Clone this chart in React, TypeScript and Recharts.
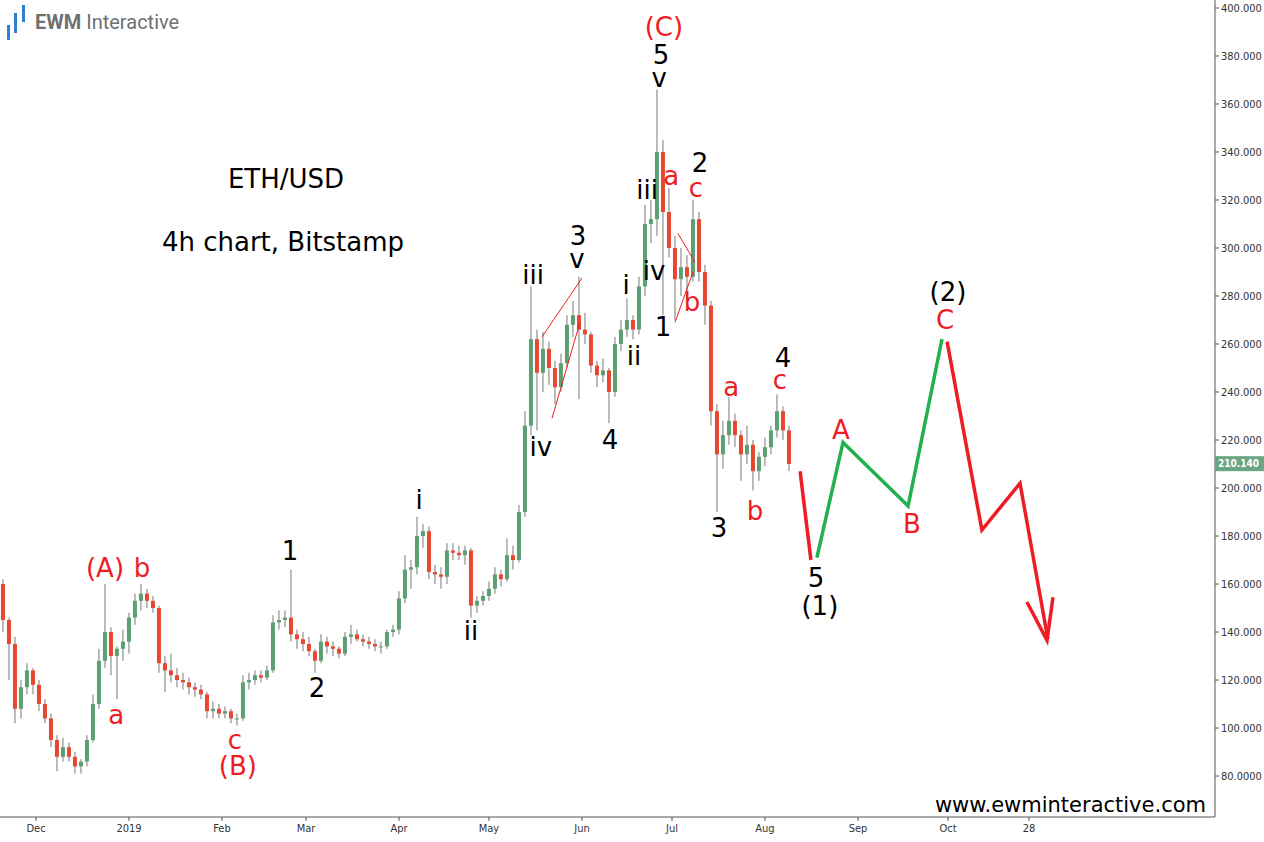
import React from "react"
import { ComposedChart, Bar, Line, Scatter, XAxis, YAxis, ReferenceDot } from "recharts"

// 2-day candles starting 19 Nov 2018: [open, high, low, close]
const candles: number[][] = [
  [160, 162, 140, 145], [145, 146, 120, 135], [135, 138, 102, 108], [108, 120, 104, 117],
  [117, 127, 114, 124], [124, 125, 114, 118], [118, 120, 107, 110], [110, 112, 102, 104],
  [104, 106, 92, 95], [95, 97, 82, 88], [88, 96, 86, 92], [92, 94, 86, 88],
  [88, 90, 81, 84], [84, 87, 81, 86], [86, 97, 84, 95], [95, 114, 94, 110],
  [110, 133, 108, 128], [128, 160, 125, 140], [140, 142, 122, 130], [130, 134, 112, 133],
  [133, 141, 128, 136], [136, 148, 131, 146], [146, 156, 143, 153], [153, 160, 149, 156],
  [156, 158, 150, 153], [153, 155, 148, 150], [150, 151, 123, 127], [127, 130, 115, 124],
  [124, 131, 119, 122], [122, 125, 117, 120], [120, 123, 116, 119], [119, 121, 114, 117],
  [117, 119, 113, 116], [116, 118, 112, 114], [114, 115, 104, 107], [107, 111, 104, 108],
  [108, 110, 104, 106], [106, 109, 104, 107], [107, 108, 102, 104], [104, 106, 101, 104],
  [104, 122, 103, 119], [119, 123, 116, 120], [120, 124, 118, 122], [122, 124, 119, 121],
  [121, 126, 120, 124], [124, 147, 123, 144], [144, 149, 141, 145], [145, 149, 142, 146],
  [146, 166, 136, 139], [139, 141, 133, 137], [137, 140, 132, 135], [135, 138, 130, 132],
  [132, 133, 123, 128], [128, 139, 127, 136], [136, 138, 131, 134], [134, 136, 130, 133],
  [133, 134, 129, 131], [131, 140, 130, 138], [138, 143, 135, 139], [139, 141, 136, 137],
  [137, 139, 134, 136], [136, 138, 133, 135], [135, 137, 132, 134], [134, 136, 131, 134],
  [134, 141, 133, 140], [140, 143, 138, 141], [141, 157, 139, 154], [154, 172, 152, 166],
  [166, 170, 158, 167], [167, 188, 164, 180], [180, 185, 175, 182], [182, 184, 162, 165],
  [165, 168, 160, 164], [164, 167, 158, 163], [163, 177, 160, 174], [174, 177, 170, 173],
  [173, 176, 170, 172], [172, 176, 168, 174], [174, 175, 146, 151], [151, 155, 148, 153],
  [153, 157, 151, 155], [155, 161, 153, 158], [158, 167, 156, 164], [164, 166, 159, 162],
  [162, 179, 161, 172], [172, 176, 166, 170], [170, 193, 169, 190], [190, 232, 188, 226],
  [226, 284, 222, 262], [262, 266, 224, 248], [248, 265, 240, 258], [258, 261, 243, 250],
  [250, 253, 235, 242], [242, 256, 240, 252], [252, 272, 250, 268], [268, 278, 263, 272],
  [272, 288, 237, 266], [266, 273, 260, 264], [264, 265, 248, 251], [251, 253, 242, 247],
  [247, 254, 244, 249], [249, 250, 227, 240], [240, 263, 238, 260], [260, 270, 257, 266],
  [266, 279, 263, 270], [270, 272, 262, 266], [266, 288, 264, 284], [284, 318, 280, 310],
  [310, 320, 302, 312], [312, 366, 305, 340], [340, 345, 272, 315], [315, 325, 296, 300],
  [300, 305, 270, 287], [287, 300, 280, 292], [292, 297, 278, 288], [288, 320, 286, 312],
  [312, 315, 286, 290], [290, 293, 268, 276], [276, 278, 226, 232], [232, 235, 190, 214],
  [214, 228, 208, 222], [222, 238, 218, 228], [228, 231, 217, 222], [222, 224, 203, 214],
  [214, 226, 210, 218], [218, 220, 199, 207], [207, 215, 203, 213], [213, 221, 209, 217],
  [217, 226, 214, 224], [224, 239, 221, 232], [232, 234, 220, 224], [224, 226, 207, 210],
]

const monthTicks = [12, 43, 74, 102, 133, 163, 194, 224, 255, 286, 316, 343]
const monthLabels = ["Dec", "2019", "Feb", "Mar", "Apr", "May", "Jun", "Jul", "Aug", "Sep", "Oct", "28"]
const priceTicks = [80, 100, 120, 140, 160, 180, 200, 220, 240, 260, 280, 300, 320, 340, 360, 380, 400]
const lastPrice = 210.14

// projected path (day, price)
const projWave1 = [{ d: 266.7, p: 207 }, { d: 270.3, p: 170 }]
const projWave2 = [{ d: 272.3, p: 171 }, { d: 281, p: 219 }, { d: 302.7, p: 192.5 }, { d: 314, p: 262 }]
const projWave3 = [{ d: 315.7, p: 261 }, { d: 327.3, p: 182.5 }, { d: 340, p: 202 }, { d: 349.3, p: 137 }]
const arrowHead = [{ d: 342.3, p: 152.5 }, { d: 349, p: 136.5 }, { d: 351, p: 154.5 }]

// thin trend lines
const trendA = [{ d: 180.7, p: 263 }, { d: 194, p: 287.5 }]
const trendB = [{ d: 184, p: 229 }, { d: 193.3, p: 269 }]
const trendC = [{ d: 226, p: 306 }, { d: 231.7, p: 294 }]
const trendD = [{ d: 225, p: 269 }, { d: 231, p: 290 }]

const RED = "#ee1c24"
const BLK = "#000000"

// wave labels: day, price, text, colour
const waveLabels = [
  { d: 221.3, p: 392, t: "(C)", c: RED },
  { d: 220.3, p: 380.4, t: "5", c: BLK },
  { d: 219.7, p: 370.8, t: "v", c: BLK },
  { d: 223.7, p: 330, t: "a", c: RED },
  { d: 233.3, p: 335.4, t: "2", c: BLK },
  { d: 232, p: 325, t: "c", c: RED },
  { d: 215.7, p: 324.2, t: "iii", c: BLK },
  { d: 192.7, p: 305, t: "3", c: BLK },
  { d: 192.3, p: 295.4, t: "v", c: BLK },
  { d: 177.7, p: 288.8, t: "iii", c: BLK },
  { d: 208.7, p: 284.6, t: "i", c: BLK },
  { d: 218, p: 290.4, t: "iv", c: BLK },
  { d: 221, p: 267.1, t: "1", c: BLK },
  { d: 230.7, p: 277.5, t: "b", c: RED },
  { d: 211.3, p: 255, t: "ii", c: BLK },
  { d: 180.3, p: 217.1, t: "iv", c: BLK },
  { d: 203.3, p: 220, t: "4", c: BLK },
  { d: 261, p: 254.2, t: "4", c: BLK },
  { d: 260, p: 245, t: "c", c: RED },
  { d: 243.7, p: 242.1, t: "a", c: RED },
  { d: 251.7, p: 190.4, t: "b", c: RED },
  { d: 239.7, p: 183.3, t: "3", c: BLK },
  { d: 272, p: 162.5, t: "5", c: BLK },
  { d: 273.3, p: 150.8, t: "(1)", c: BLK },
  { d: 316, p: 281.7, t: "(2)", c: BLK },
  { d: 315, p: 270, t: "C", c: RED },
  { d: 280.3, p: 224.2, t: "A", c: RED },
  { d: 304, p: 185, t: "B", c: RED },
  { d: 139.7, p: 195, t: "i", c: BLK },
  { d: 157, p: 140.4, t: "ii", c: BLK },
  { d: 96.7, p: 173.8, t: "1", c: BLK },
  { d: 105.7, p: 116.7, t: "2", c: BLK },
  { d: 35, p: 166.7, t: "(A)", c: RED },
  { d: 47.3, p: 166.7, t: "b", c: RED },
  { d: 38.7, p: 105.4, t: "a", c: RED },
  { d: 78.3, p: 95, t: "c", c: RED },
  { d: 79.3, p: 84.2, t: "(B)", c: RED },
]

const chartData = candles.map(([o, h, l, c], i) => ({ d: 2 * i + 1, o, h, l, c, range: [l, h] }))

const UP = "#5c9f74"
const DOWN = "#e8462e"
const WICK = "#7a7a7a"
const FONT = "'DejaVu Sans', Verdana, sans-serif"
const BODY_W = 4

const Candle = (props: any) => {
  const { x, y, width, height, payload } = props
  if (!payload) return null
  const { o, h, l, c } = payload
  const top = Math.min(y, y + height)
  const span = Math.abs(height)
  const k = h === l ? 0 : span / (h - l)
  const yo = top + (h - o) * k
  const yc = top + (h - c) * k
  const mid = x + width / 2
  return (
    <g>
      <line x1={mid} x2={mid} y1={top} y2={top + span} stroke={WICK} strokeWidth={1} />
      <rect x={mid - BODY_W / 2} y={Math.min(yo, yc)} width={BODY_W} height={Math.max(1, Math.abs(yc - yo))} fill={c >= o ? UP : DOWN} />
    </g>
  )
}

const WaveLabel = (props: any) => {
  const { cx, cy, payload } = props
  return (
    <text x={cx} y={cy} textAnchor="middle" dominantBaseline="central" fill={payload.c} fontSize={26} fontFamily={FONT}>
      {payload.t}
    </text>
  )
}

const PriceTag = (props: any) => {
  const { cx, cy } = props
  return (
    <g>
      <rect x={cx} y={cy - 7.5} width={49} height={15} fill="#6aa683" />
      <text x={cx + 3} y={cy} dominantBaseline="central" fill="#fff" fontSize={10}
        fontFamily="'DejaVu Sans Condensed', 'DejaVu Sans', sans-serif" fontWeight="bold">
        {lastPrice.toFixed(3)}
      </text>
    </g>
  )
}

const tickFont = { fill: "#333", fontSize: 11, fontFamily: "'DejaVu Sans Condensed', 'DejaVu Sans', sans-serif" }

export default function App() {
  return (
    <div style={{ position: "absolute", left: 0, top: 0, width: 1264, height: 842, background: "#fff", fontFamily: FONT }}>
      <ComposedChart width={1264} height={842} data={chartData} margin={{ top: 0, right: 0, bottom: 0, left: 0 }}>
        <XAxis
          type="number"
          dataKey="d"
          domain={[0, 405]}
          allowDataOverflow
          ticks={monthTicks}
          tickFormatter={(v: number) => monthLabels[monthTicks.indexOf(v)]}
          height={25}
          tickSize={4}
          tickMargin={3}
          axisLine={{ stroke: "#555" }}
          tickLine={{ stroke: "#555" }}
          tick={tickFont}
        />
        <YAxis
          orientation="right"
          domain={[62.92, 403.33]}
          allowDataOverflow
          ticks={priceTicks}
          tickFormatter={(v: number) => v.toFixed(v < 100 ? 4 : 3)}
          width={49}
          tickSize={4}
          tickMargin={2}
          axisLine={{ stroke: "#555" }}
          tickLine={{ stroke: "#555" }}
          tick={{ ...tickFont, textAnchor: "start" }}
        />
        <Bar dataKey="range" barSize={4} shape={Candle} isAnimationActive={false} />
        <Line data={trendA} dataKey="p" stroke={RED} strokeWidth={1} dot={false} activeDot={false} isAnimationActive={false} />
        <Line data={trendB} dataKey="p" stroke={RED} strokeWidth={1} dot={false} activeDot={false} isAnimationActive={false} />
        <Line data={trendC} dataKey="p" stroke={RED} strokeWidth={1} dot={false} activeDot={false} isAnimationActive={false} />
        <Line data={trendD} dataKey="p" stroke={RED} strokeWidth={1} dot={false} activeDot={false} isAnimationActive={false} />
        <Line data={projWave1} dataKey="p" stroke={RED} strokeWidth={3.5} dot={false} activeDot={false} isAnimationActive={false} />
        <Line data={projWave2} dataKey="p" stroke="#22b14c" strokeWidth={3.5} strokeLinejoin="miter" dot={false} activeDot={false} isAnimationActive={false} />
        <Line data={projWave3} dataKey="p" stroke={RED} strokeWidth={3.5} strokeLinejoin="miter" dot={false} activeDot={false} isAnimationActive={false} />
        <Line data={arrowHead} dataKey="p" stroke={RED} strokeWidth={3.5} strokeLinejoin="miter" dot={false} activeDot={false} isAnimationActive={false} />
        <Scatter data={waveLabels} dataKey="p" shape={WaveLabel} isAnimationActive={false} />
        <ReferenceDot x={405} y={lastPrice} r={0} ifOverflow="visible" shape={PriceTag} />
      </ComposedChart>

      {/* logo */}
      <div style={{ position: "absolute", left: 7, top: 25, width: 2.5, height: 15, background: "#2d7fd3" }} />
      <div style={{ position: "absolute", left: 14, top: 13, width: 2.5, height: 20, background: "#2d7fd3" }} />
      <div style={{ position: "absolute", left: 22, top: 5, width: 2.5, height: 17, background: "#2d7fd3" }} />
      <div style={{ position: "absolute", left: 35, top: 10, fontFamily: "Roboto, sans-serif", fontSize: 20, color: "#707070", whiteSpace: "nowrap" }}>
        <b>EWM</b> Interactive
      </div>

      <div style={{ position: "absolute", left: 286, top: 179, transform: "translate(-50%, -50%)", fontSize: 26, whiteSpace: "nowrap" }}>ETH/USD</div>
      <div style={{ position: "absolute", left: 283, top: 242, transform: "translate(-50%, -50%)", fontSize: 26, whiteSpace: "nowrap" }}>4h chart, Bitstamp</div>
      <div style={{ position: "absolute", right: 58, top: 805, transform: "translateY(-50%)", fontSize: 21, whiteSpace: "nowrap" }}>www.ewminteractive.com</div>
    </div>
  )
}
